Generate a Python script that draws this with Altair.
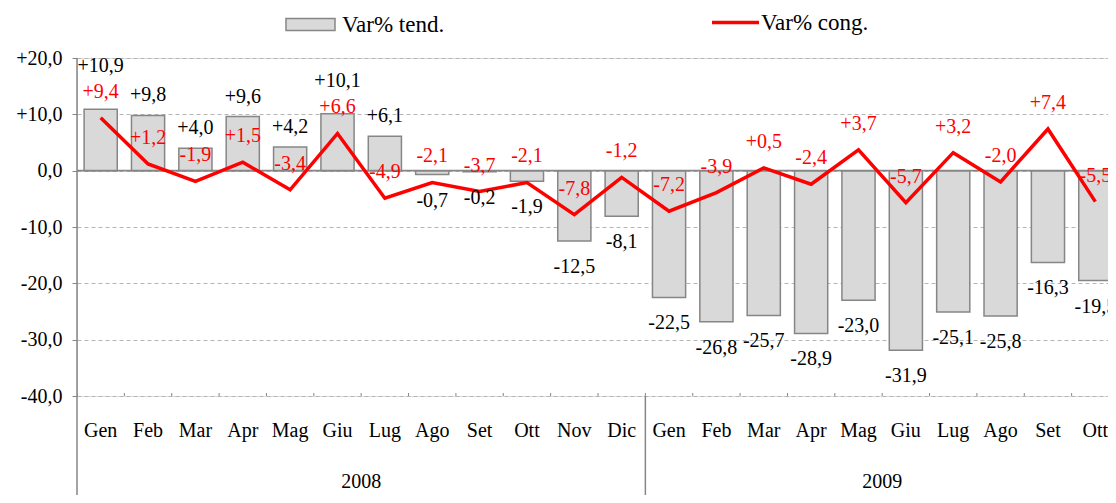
import altair as alt
import pandas as pd

# ---------------- data ----------------
months_2008 = ["Gen", "Feb", "Mar", "Apr", "Mag", "Giu", "Lug", "Ago", "Set", "Ott", "Nov", "Dic"]
months_2009 = ["Gen", "Feb", "Mar", "Apr", "Mag", "Giu", "Lug", "Ago", "Set", "Ott"]
years = ["2008", "2009"]
var_tend = [10.9, 9.8, 4.0, 9.6, 4.2, 10.1, 6.1, -0.7, -0.2, -1.9, -12.5, -8.1,
            -22.5, -26.8, -25.7, -28.9, -23.0, -31.9, -25.1, -25.8, -16.3, -19.5]
var_cong = [9.4, 1.2, -1.9, 1.5, -3.4, 6.6, -4.9, -2.1, -3.7, -2.1, -7.8, -1.2,
            -7.2, -3.9, 0.5, -2.4, 3.7, -5.7, 3.2, -2.0, 7.4, -5.5]
y_ticks = [-40, -30, -20, -10, 0, 10, 20]
series_names = ["Var% tend.", "Var% cong."]

# ---------------- layout / style ----------------
PLOT_W, PLOT_H = 1031, 338
RANGE_W = 1042
PAD = {"left": 69, "top": 50, "right": 0, "bottom": 99}
Y_MIN, Y_MAX = -40, 20
PX = PLOT_H / (Y_MAX - Y_MIN)

FONT = "Liberation Serif, Times New Roman, DejaVu Serif, serif"
GRAY_FILL = "#d9d9d9"
GRAY_LINE = "#868686"
GRID = "#b5b5b5"
RED = "#ff0000"


def fmt(v):
    return f"{v:+.1f}".replace(".", ",")


month_lists = [months_2008, months_2009]
keys = [f"{m} {y}" for y, ms in zip(years, month_lists) for m in ms]

cong_y = [c + 26 / PX for c in var_cong]
tend_y = []
for t, cy in zip(var_tend, cong_y):
    if t >= 0:
        ty = t + 20 / PX
        if cy - 22 / PX < ty < cy + 26 / PX:
            ty = cy + 26 / PX
    else:
        ty = t - 26 / PX
    tend_y.append(ty)

df = pd.DataFrame({
    "key": keys,
    "tend": var_tend,
    "cong": var_cong,
    "tend_lbl": [fmt(v) for v in var_tend],
    "cong_lbl": [fmt(v) for v in var_cong],
    "tend_y": tend_y,
    "cong_y": cong_y,
    "s_tend": series_names[0],
    "s_cong": series_names[1],
})

year_df = pd.DataFrame({
    "year": years,
    "key": [f"{ms[len(ms) // 2]} {y}" for y, ms in zip(years, month_lists)],
})
sep_df = pd.DataFrame({"key": [f"{ms[0]} {y}" for y, ms in zip(years[1:], month_lists[1:])]})
one_df = pd.DataFrame({"k": [0]})

xscale = alt.Scale(type="band", domain=keys, range=[0, RANGE_W], paddingInner=0, paddingOuter=0)
yscale = alt.Scale(domain=[Y_MIN, Y_MAX], nice=False, zero=False)

y_label_expr = ("(datum.value > 0 ? '+' : datum.value < 0 ? '-' : '') + "
                "replace(format(abs(datum.value), '.1f'), '.', ',')")

x_axis = alt.Axis(title=None, labelExpr="split(datum.label, ' ')[0]",
                  labelFont=FONT, labelFontSize=20, labelColor="black",
                  labelPadding=24, ticks=False, tickSize=0, domain=False,
                  grid=False, labelAngle=0, labelOverlap=False)
y_axis = alt.Axis(title=None, values=y_ticks, labelExpr=y_label_expr,
                  labelFont=FONT, labelFontSize=20, labelColor="black",
                  labelPadding=10, tickSize=5, tickColor=GRAY_LINE,
                  domain=False, grid=True, gridColor=GRID, gridDash=[4, 3],
                  gridWidth=1)

x_main = alt.X("key:N", scale=xscale, sort=keys, axis=x_axis)
x_edge = alt.X("key:N", scale=xscale, sort=keys, axis=x_axis, bandPosition=0)

bars = alt.Chart(df).mark_bar(
    width=alt.RelativeBandSize(0.7), stroke=GRAY_LINE, strokeWidth=1.5, clip=True
).encode(
    x=x_main,
    y=alt.Y("tend:Q", scale=yscale, axis=y_axis),
    fill=alt.Fill("s_tend:N", scale=alt.Scale(domain=[series_names[0]], range=[GRAY_FILL]),
                  legend=alt.Legend(title=None, orient="none", legendX=208, legendY=-59,
                                    symbolType="M-1,-0.245L1,-0.245L1,0.245L-1,0.245Z",
                                    symbolSize=2401, symbolStrokeColor=GRAY_LINE,
                                    symbolStrokeWidth=1.5, symbolFillColor=GRAY_FILL,
                                    labelFont=FONT, labelFontSize=23, labelColor="black",
                                    labelOffset=6, padding=0)),
)

zero = alt.Chart(one_df).mark_rule(color=GRAY_LINE, strokeWidth=1.8).encode(
    y=alt.Y(datum=0, scale=yscale, axis=y_axis)
)

yaxis_line = alt.Chart(one_df).mark_rule(color=GRAY_LINE, strokeWidth=1.5).encode(
    x=alt.value(0), y=alt.value(0), y2=alt.value(PLOT_H + PAD["bottom"])
)

sep = alt.Chart(sep_df).mark_rule(color=GRAY_LINE, strokeWidth=1.5).encode(
    x=x_edge, y=alt.value(PLOT_H), y2=alt.value(PLOT_H + PAD["bottom"])
)

edge_ticks = alt.Chart(df).mark_rule(color=GRAY_LINE, strokeWidth=1, clip=True).encode(
    x=x_edge, y=alt.value(PLOT_H - 3), y2=alt.value(PLOT_H + 3)
)

line = alt.Chart(df).mark_line(strokeWidth=3.5).encode(
    x=x_main,
    y=alt.Y("cong:Q", scale=yscale, axis=y_axis),
    stroke=alt.Stroke("s_cong:N", scale=alt.Scale(domain=[series_names[1]], range=[RED]),
                      legend=alt.Legend(title=None, orient="none", legendX=633, legendY=-61,
                                        symbolType="stroke", symbolSize=2209,
                                        symbolStrokeWidth=3.5,
                                        labelFont=FONT, labelFontSize=23, labelColor="black",
                                        labelOffset=0, padding=0)),
)

tend_text = alt.Chart(df).mark_text(font=FONT, fontSize=20, color="black", baseline="middle", clip=True).encode(
    x=x_main, y=alt.Y("tend_y:Q", scale=yscale, axis=y_axis), text="tend_lbl:N"
)
cong_text = alt.Chart(df).mark_text(font=FONT, fontSize=20, color=RED, baseline="middle", clip=True).encode(
    x=x_main, y=alt.Y("cong_y:Q", scale=yscale, axis=y_axis), text="cong_lbl:N"
)

year_text = alt.Chart(year_df).mark_text(font=FONT, fontSize=20, color="black", baseline="middle").encode(
    x=x_edge, y=alt.value(PLOT_H + 86), text="year:N"
)

chart = alt.layer(
    bars, zero, line, tend_text, cong_text, yaxis_line, sep, edge_ticks, year_text
).properties(
    width=PLOT_W, height=PLOT_H, padding=PAD,
    autosize=alt.AutoSizeParams(type="none"),
).configure_view(stroke=None).configure(background="white")

chart.save("out.html", embed_options={"renderer": "svg", "actions": False})
